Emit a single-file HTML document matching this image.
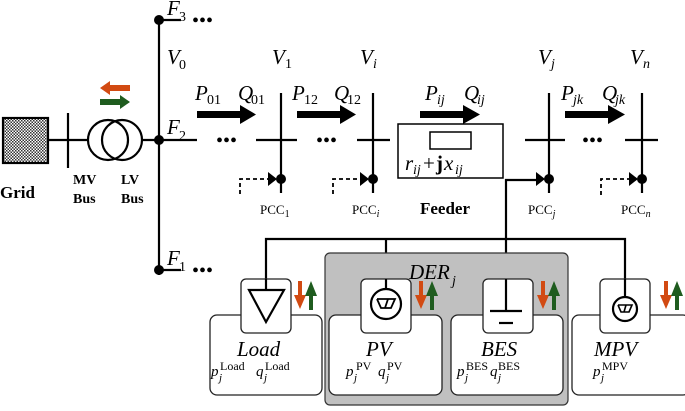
<!DOCTYPE html>
<html><head><meta charset="utf-8"><style>
html,body{margin:0;padding:0;background:#fff}
svg text{font-family:"Liberation Serif",serif}
.it{font-style:italic}
.m{font-size:21px;font-style:italic}
.s{font-size:14px}
.si{font-size:14px;font-style:italic}
.pp{font-size:15px;font-style:italic}
.ps{font-size:12px}
.pj{font-size:11px;font-style:italic}
</style></head><body>
<svg width="685" height="406" viewBox="0 0 685 406" xmlns="http://www.w3.org/2000/svg">
<defs>
<pattern id="chk" width="3" height="3" patternUnits="userSpaceOnUse"><rect width="3" height="3" fill="#fff"/><rect width="1.5" height="1.5" fill="#333"/><rect x="1.5" y="1.5" width="1.5" height="1.5" fill="#333"/></pattern>
</defs>
<g stroke="#000" stroke-width="2.2" fill="none">
<rect x="3" y="118" width="45" height="45" fill="url(#chk)"/>
<line x1="48" y1="140" x2="88" y2="140"/>
<line x1="68" y1="113" x2="68" y2="168"/>
<circle cx="108" cy="140" r="20"/>
<circle cx="122" cy="140" r="20"/>
<line x1="142" y1="140" x2="197" y2="140"/>
<line x1="159" y1="20" x2="159" y2="275"/>
<line x1="159" y1="20" x2="181" y2="20"/>
<line x1="159" y1="270" x2="181" y2="270"/>
<line x1="281" y1="93" x2="281" y2="193"/><line x1="256" y1="140" x2="297" y2="140"/>
<line x1="373" y1="93" x2="373" y2="193"/><line x1="357" y1="140" x2="390" y2="140"/>
<line x1="549" y1="93" x2="549" y2="193"/><line x1="525" y1="140" x2="565" y2="140"/>
<line x1="642" y1="93" x2="642" y2="193"/><line x1="625" y1="140" x2="658" y2="140"/>
<rect x="398" y="124" width="105" height="54" stroke-width="1.5"/>
<rect x="430" y="132" width="41" height="17" stroke-width="1.5"/>
<g stroke-dasharray="4,3" stroke-width="1.8">
<polyline points="240,194 240,179 268,179"/>
<polyline points="333,194 333,179 360,179"/>
<polyline points="601,195 601,179 629,179"/>
</g>
<polyline points="506,239 506,180 536,180"/>
<polyline points="266,290 266,239 625,239 625,300"/>
<line x1="386" y1="239" x2="386" y2="289"/>
<line x1="506" y1="239" x2="506" y2="310"/>
</g>
<g fill="#000">
<circle cx="159" cy="20" r="5"/><circle cx="159" cy="140" r="5"/><circle cx="159" cy="270" r="5"/>
<circle cx="281" cy="179" r="5"/><circle cx="373" cy="179" r="5"/><circle cx="549" cy="179" r="5"/><circle cx="642" cy="179" r="5"/>
<polygon points="268,172 277,179 268,186"/><polygon points="360,172 369,179 360,186"/>
<polygon points="536,172 545,179 536,186"/><polygon points="629,172 638,179 629,186"/>
<rect x="197" y="111" width="45" height="7"/><polygon points="240,105 256,114.5 240,124"/>
<rect x="297" y="111" width="45" height="7"/><polygon points="340,105 356,114.5 340,124"/>
<rect x="420" y="111" width="45" height="7"/><polygon points="463,105 480,114.5 463,124"/>
<rect x="565" y="111" width="45" height="7"/><polygon points="608,105 625,114.5 608,124"/>
<g font-size="20" font-family="Liberation Sans"><text x="192" y="27">•••</text><text x="192" y="277">•••</text>
<text x="216" y="147">•••</text><text x="316" y="147">•••</text><text x="582" y="147">•••</text></g>
</g>
<polygon points="100,88 110,81 110,85 130,85 130,91 110,91 110,95" fill="#d24a12"/>
<polygon points="130,102 120,95 120,99 100,99 100,105 120,105 120,109" fill="#1f5c1f"/>
<text class="m" x="167" y="15">F</text><text class="s" x="179" y="21">3</text>
<text class="m" x="167" y="64">V</text><text class="s" x="179" y="69">0</text>
<text class="m" x="167" y="134">F</text><text class="s" x="179" y="140">2</text>
<text class="m" x="167" y="265">F</text><text class="s" x="179" y="271">1</text>
<text class="m" x="272" y="64">V</text><text class="s" x="285" y="68">1</text>
<text class="m" x="360" y="64">V</text><text class="si" x="373" y="68">i</text>
<text class="m" x="538" y="64">V</text><text class="si" x="551" y="68">j</text>
<text class="m" x="630" y="64">V</text><text class="si" x="643" y="68">n</text>
<text class="m" x="195" y="100">P</text><text class="s" x="207" y="104">01</text>
<text class="m" x="238" y="100">Q</text><text class="s" x="251" y="104">01</text>
<text class="m" x="292" y="100">P</text><text class="s" x="304" y="104">12</text>
<text class="m" x="334" y="100">Q</text><text class="s" x="347" y="104">12</text>
<text class="m" x="425" y="100">P</text><text class="si" x="437" y="104">ij</text>
<text class="m" x="464" y="100">Q</text><text class="si" x="477" y="104">ij</text>
<text class="m" x="561" y="100">P</text><text class="si" x="573" y="104">jk</text>
<text class="m" x="602" y="100">Q</text><text class="si" x="615" y="104">jk</text>
<text class="m" x="405" y="170">r</text><text class="si" x="413" y="174">ij</text>
<text x="423" y="170" font-size="21">+</text><text x="436" y="170" font-size="21" font-weight="bold">j</text>
<text class="m" x="444" y="170">x</text><text class="si" x="455" y="174">ij</text>
<g>
<text x="0" y="198" font-weight="bold" font-size="17">Grid</text>
<text x="73" y="184" font-weight="bold" font-size="14">MV</text><text x="73" y="203" font-weight="bold" font-size="14">Bus</text>
<text x="121" y="184" font-weight="bold" font-size="14">LV</text><text x="121" y="203" font-weight="bold" font-size="14">Bus</text>
<text x="420" y="214" font-weight="bold" font-size="17">Feeder</text>
<text x="260" y="214" font-size="13">PCC<tspan font-size="10" dy="3">1</tspan></text>
<text x="352" y="214" font-size="13">PCC<tspan font-size="10" dy="3" class="it">i</tspan></text>
<text x="528" y="214" font-size="13">PCC<tspan font-size="10" dy="3" class="it">j</tspan></text>
<text x="621" y="214" font-size="13">PCC<tspan font-size="10" dy="3" class="it">n</tspan></text>
</g>
<rect x="325" y="253" width="243" height="152" rx="5" fill="#c0c0c0" stroke="#333" stroke-width="1.2"/>
<text class="m" x="409" y="279" font-size="24">DER</text><text class="si" x="452" y="285">j</text>
<g stroke="#222" stroke-width="1.3" fill="#fff">
<rect x="210" y="315" width="112" height="80" rx="7"/>
<rect x="329" y="315" width="113" height="80" rx="7"/>
<rect x="451" y="315" width="112" height="80" rx="7"/>
<rect x="572" y="315" width="118" height="80" rx="7"/>
<rect x="241" y="279" width="50" height="54" rx="5"/>
<rect x="361" y="279" width="50" height="54" rx="5"/>
<rect x="483" y="279" width="50" height="54" rx="5"/>
<rect x="600" y="279" width="50" height="54" rx="5"/>
</g>
<g stroke="#000" stroke-width="2.2" fill="none">
<line x1="266" y1="279" x2="266" y2="290"/><line x1="386" y1="279" x2="386" y2="289"/>
<line x1="506" y1="279" x2="506" y2="310"/><line x1="625" y1="279" x2="625" y2="297"/>
<polygon points="249,290 284,290 266,322"/>
<circle cx="386" cy="304" r="15"/>
<polyline points="377,299 395,299 391,308 381,308 377,299" stroke-width="1.8"/><line x1="385" y1="308" x2="388" y2="299" stroke-width="1.8"/>
<circle cx="625" cy="309" r="12"/>
<polyline points="618,305 632,305 629,312 621,312 618,305" stroke-width="1.6"/><line x1="624" y1="312" x2="626" y2="305" stroke-width="1.6"/>
<line x1="490" y1="311" x2="522" y2="311"/><line x1="499" y1="323" x2="513" y2="323"/>
</g>
<g>
<g transform="translate(300,0)"><rect x="-2" y="281" width="4" height="16" fill="#d24a12"/><polygon points="-6,295 6,295 0,309" fill="#d24a12"/><rect x="9" y="294" width="4" height="16" fill="#1f5c1f"/><polygon points="5,296 17,296 11,281" fill="#1f5c1f"/></g>
<g transform="translate(421,0)"><rect x="-2" y="281" width="4" height="16" fill="#d24a12"/><polygon points="-6,295 6,295 0,309" fill="#d24a12"/><rect x="9" y="294" width="4" height="16" fill="#1f5c1f"/><polygon points="5,296 17,296 11,281" fill="#1f5c1f"/></g>
<g transform="translate(543,0)"><rect x="-2" y="281" width="4" height="16" fill="#d24a12"/><polygon points="-6,295 6,295 0,309" fill="#d24a12"/><rect x="9" y="294" width="4" height="16" fill="#1f5c1f"/><polygon points="5,296 17,296 11,281" fill="#1f5c1f"/></g>
<g transform="translate(666,0)"><rect x="-2" y="281" width="4" height="16" fill="#d24a12"/><polygon points="-6,295 6,295 0,309" fill="#d24a12"/><rect x="9" y="294" width="4" height="16" fill="#1f5c1f"/><polygon points="5,296 17,296 11,281" fill="#1f5c1f"/></g>
</g>
<text class="m" x="237" y="356" font-size="23">Load</text>
<text class="m" x="366" y="356" font-size="23">PV</text>
<text class="m" x="481" y="356" font-size="23">BES</text>
<text class="m" x="594" y="356" font-size="23">MPV</text>
<text class="pp" x="211" y="376">p</text><text class="pj" x="219" y="381">j</text><text class="ps" x="220" y="370">Load</text>
<text class="pp" x="256" y="376">q</text><text class="pj" x="264" y="381">j</text><text class="ps" x="265" y="370">Load</text>
<text class="pp" x="346" y="376">p</text><text class="pj" x="354" y="381">j</text><text class="ps" x="356" y="370">PV</text>
<text class="pp" x="378" y="376">q</text><text class="pj" x="386" y="381">j</text><text class="ps" x="387" y="370">PV</text>
<text class="pp" x="457" y="376">p</text><text class="pj" x="465" y="381">j</text><text class="ps" x="466" y="370">BES</text>
<text class="pp" x="490" y="376">q</text><text class="pj" x="498" y="381">j</text><text class="ps" x="498" y="370">BES</text>
<text class="pp" x="593" y="376">p</text><text class="pj" x="601" y="381">j</text><text class="ps" x="602" y="370">MPV</text>
</svg>
</body></html>
